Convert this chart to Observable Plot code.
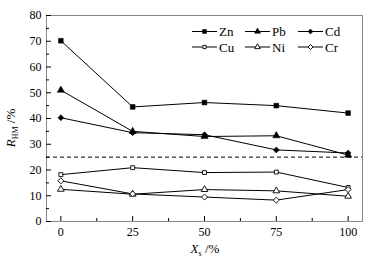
<!DOCTYPE html>
<html><head><meta charset="utf-8">
<script src="https://cdn.jsdelivr.net/npm/d3@7"></script>
<script src="https://cdn.jsdelivr.net/npm/@observablehq/plot@0.6"></script>
<style>
body{margin:0;background:#fff}
#chart{position:relative;width:369px;height:259px}
#chart svg, #chart svg text{font-family:"Liberation Serif","Times New Roman",serif}
</style>
</head><body><div id="chart"></div>
<script>
// ---- data ----
const xs = [0, 25, 50, 75, 100];
const seriesNames = ["Zn", "Pb", "Cd", "Cu", "Ni", "Cr"];
const Zn = [70.2, 44.5, 46.2, 45.0, 42.1];
const Pb = [51.0, 35.0, 33.0, 33.3, 25.8];
const Cd = [40.3, 34.5, 33.7, 27.8, 26.6];
const Cu = [18.2, 20.9, 19.0, 19.2, 13.2];
const Ni = [12.5, 10.6, 12.4, 11.9, 9.8];
const Cr = [15.8, 10.7, 9.5, 8.3, 12.4];
const threshold = [25];
const yTicks = [0, 10, 20, 30, 40, 50, 60, 70, 80];
const yMinor = [5, 15, 25, 35, 45, 55, 65, 75];
const xTicks = [0, 25, 50, 75, 100];
const xMinor = [12.5, 37.5, 62.5, 87.5];

const values = {Zn, Pb, Cd, Cu, Ni, Cr};
const style = {
  Zn: {symbol: "square", fill: "black", r: 2.7},
  Pb: {symbol: "triangle", fill: "black", r: 2.7},
  Cd: {symbol: "diamond2", fill: "black", r: 2.7},
  Cu: {symbol: "square", fill: "white", r: 2.2},
  Ni: {symbol: "triangle", fill: "white", r: 2.5},
  Cr: {symbol: "diamond2", fill: "white", r: 2.7}
};
const rows = seriesNames.flatMap(s => xs.map((x, i) => ({series: s, x, y: values[s][i]})));

const font = '"Liberation Serif", "Times New Roman", serif';
const W = 369, H = 259;
const mL = 46, mR = 7, mT = 15, mB = 38;

const marks = [
  Plot.frame({stroke: "#888"}),
  Plot.ruleY(threshold, {stroke: "black", strokeWidth: 1, strokeDasharray: "4,3"}),
  Plot.axisY({ticks: yTicks, tickSize: 0, tickPadding: 5, label: null, fontSize: 12}),
  Plot.axisY({ticks: yTicks, tickSize: -5, tickFormat: () => "", label: null}),
  Plot.axisY({ticks: yMinor, tickSize: -3, tickFormat: () => "", label: null}),
  Plot.axisX({ticks: xTicks, tickSize: 0, tickPadding: 6, label: null, fontSize: 12}),
  Plot.axisX({ticks: xTicks, tickSize: -5, tickFormat: () => "", label: null}),
  Plot.axisX({ticks: xMinor, tickSize: -3, tickFormat: () => "", label: null}),
  Plot.line(rows, {x: "x", y: "y", z: "series", stroke: "black", strokeWidth: 1})
];
for (const s of seriesNames) {
  const st = style[s];
  marks.push(Plot.dot(rows.filter(d => d.series === s), {
    x: "x", y: "y", symbol: () => st.symbol, r: st.r, fill: st.fill, stroke: "black", strokeWidth: st.fill === "white" ? 0.9 : 0.5
  }));
}

const chart = Plot.plot({
  width: W, height: H,
  marginLeft: mL, marginRight: mR, marginTop: mT, marginBottom: mB,
  style: {fontFamily: font, fontSize: "12px", color: "black", background: "white"},
  x: {domain: [-5, 105]},
  y: {domain: [0, 80]},
  symbol: {type: "identity"},
  marks
});
document.getElementById("chart").appendChild(chart);

// ---- axis titles & legend ----
const svg = d3.select(chart);
const yl = svg.append("text")
  .attr("transform", "translate(15,128) rotate(-90)")
  .attr("text-anchor", "middle")
  .style("font-family", font).attr("font-size", 13).attr("fill", "black");
yl.append("tspan").attr("font-style", "italic").text("R");
yl.append("tspan").attr("font-size", 8).attr("dy", 3).text("HM");
yl.append("tspan").attr("dy", -3).text(" /%");

const xl = svg.append("text")
  .attr("x", 205).attr("y", 253)
  .attr("text-anchor", "middle")
  .style("font-family", font).attr("font-size", 13).attr("fill", "black");
xl.append("tspan").attr("font-style", "italic").text("X");
xl.append("tspan").attr("font-size", 8).attr("dy", 3).text("s");
xl.append("tspan").attr("dy", -3).text(" /%");

const legX = [192, 245, 298], legY = [31.5, 47];
const symMap = {square: d3.symbolSquare, triangle: d3.symbolTriangle, diamond2: d3.symbolDiamond2};
seriesNames.forEach((s, i) => {
  const x0 = legX[i % 3], y0 = legY[Math.floor(i / 3)];
  const st = style[s];
  const g = svg.append("g");
  g.append("line").attr("x1", x0).attr("x2", x0 + 25).attr("y1", y0).attr("y2", y0)
    .attr("stroke", "black").attr("stroke-width", 1);
  g.append("path").attr("d", d3.symbol(symMap[st.symbol], Math.PI * st.r * st.r * 0.7)())
    .attr("transform", `translate(${x0 + 12.5},${y0})`)
    .attr("fill", st.fill).attr("stroke", "black").attr("stroke-width", st.fill === "white" ? 0.9 : 0.5);
  g.append("text").attr("x", x0 + 27).attr("y", y0 + 4.5).attr("text-anchor", "start")
    .style("font-family", font).attr("font-size", 13).attr("fill", "black").text(s);
});
</script>
</body></html>
